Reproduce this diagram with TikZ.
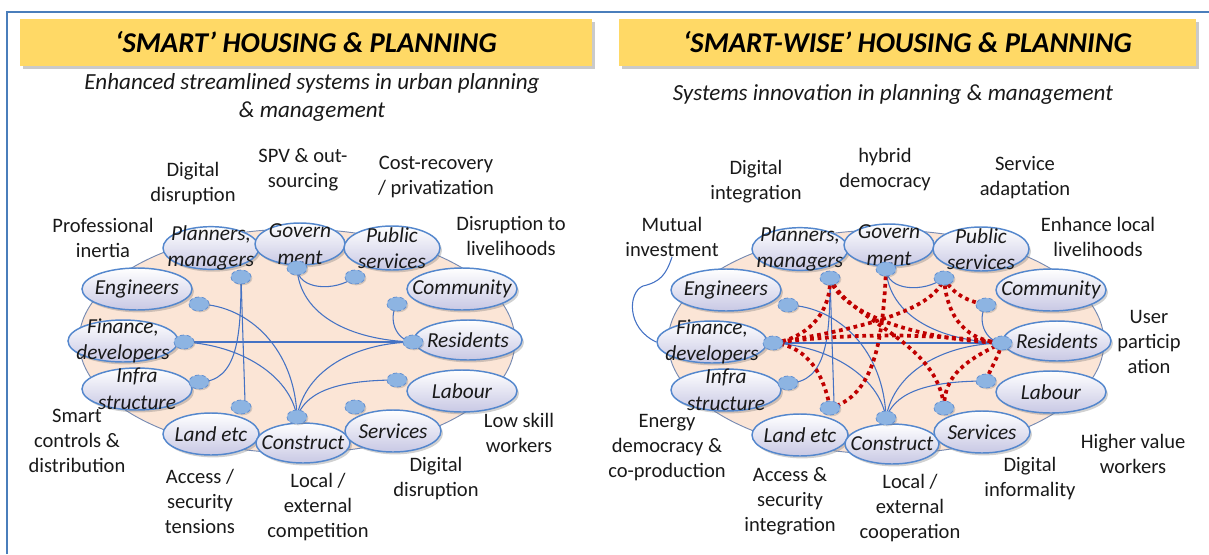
\documentclass[tikz,border=0pt]{standalone}
\usepackage{fontspec}
\setmainfont{Carlito}
\usetikzlibrary{shapes.geometric,shadows}
\pgfdeclarelayer{bg}
\pgfdeclarelayer{lines}
\pgfsetlayers{bg,lines,main}
\definecolor{hdr}{RGB}{255,217,102}
\definecolor{peach}{RGB}{251,229,214}
\definecolor{rim}{RGB}{118,138,178}
\definecolor{nodeedge}{RGB}{84,135,205}
\definecolor{nodelow}{RGB}{200,200,228}
\definecolor{dotfill}{RGB}{141,180,226}
\definecolor{dotedge}{RGB}{100,145,210}
\definecolor{link}{RGB}{68,114,196}
\definecolor{redlink}{RGB}{192,0,0}
\definecolor{framec}{RGB}{74,126,187}
\definecolor{ink}{RGB}{25,25,25}
\tikzset{
  hdrbox/.style={fill=hdr, draw=none, minimum height=35.25pt, inner sep=0pt,
     font=\fontsize{21.5}{24}\selectfont\bfseries\itshape, text=black,
     drop shadow={shadow xshift=2.5pt, shadow yshift=-2.5pt, opacity=0.35, fill=black!60}},
  subt/.style={font=\fontsize{17.3}{21}\selectfont\itshape, align=center, text=ink, inner sep=0pt},
  ann/.style={font=\fontsize{15.4}{18.75}\selectfont, align=center, text=ink, inner sep=0pt},
  bigell/.style={ellipse, fill=peach, draw=rim, line width=0.7pt, minimum width=327pt, minimum height=168pt, inner sep=0pt},
  nd/.style={ellipse, draw=nodeedge, line width=1.1pt, top color=white, bottom color=nodelow,
     minimum width=72pt, minimum height=31.5pt, inner sep=0pt,
     drop shadow={shadow xshift=1.5pt, shadow yshift=-1.8pt, opacity=0.3, fill=black!60}},
  ndw/.style={nd, minimum width=82.5pt},
  ndtext/.style={font=\fontsize{16}{20}\selectfont\itshape, align=center, text=ink, inner sep=0pt},
  port/.style={ellipse, fill=dotfill, draw=dotedge, densely dashed, line width=0.6pt,
     minimum width=15pt, minimum height=10.5pt, inner sep=0pt,
     drop shadow={shadow xshift=1pt, shadow yshift=-1pt, opacity=0.25, fill=black!60}},
  lnk/.style={draw=link, line width=0.8pt},
  rlnk/.style={draw=redlink, line width=2.8pt, dash pattern=on 2.8pt off 2.8pt},
}
\newcommand{\hpnet}[1]{%
  \begin{pgfonlayer}{bg}
    \node[bigell] (#1big) at (297,341) {};
  \end{pgfonlayer}
  \node[nd, minimum width=72pt, minimum height=32pt, label={[ndtext]center:{Planners,\\managers}}] (#1pl) at (211,248) {};
  \node[nd, minimum width=67.5pt, label={[ndtext]center:{Govern\\ment}}] (#1go) at (300,244) {};
  \node[nd, minimum width=72pt, minimum height=33pt, label={[ndtext]center:{Public\\services}}] (#1pu) at (392,248) {};
  \node[ndw, label={[ndtext]center:{Community}}] (#1co) at (462,289) {};
  \node[ndw, minimum width=81pt, minimum height=30pt, label={[ndtext]center:{Residents}}] (#1re) at (468,340) {};
  \node[ndw, label={[ndtext]center:{Labour}}] (#1la) at (462,391) {};
  \node[ndw, label={[ndtext]center:{Engineers}}] (#1en) at (137,289) {};
  \node[ndw, label={[ndtext]center:{Finance,\\developers}}] (#1fi) at (123,341) {};
  \node[ndw, label={[ndtext]center:{Infra\\structure}}] (#1in) at (137,389) {};
  \node[nd, label={[ndtext]center:{Land etc}}] (#1ld) at (211,434) {};
  \node[nd, minimum width=70.5pt, minimum height=30pt, label={[ndtext]center:{Construct}}] (#1cn) at (303,443) {};
  \node[nd, label={[ndtext]center:{Services}}] (#1se) at (393,431) {};
  \node[port] (#1dpl) at (241,277) {};
  \node[port] (#1dgo) at (297,268) {};
  \node[port] (#1dpu) at (355,277) {};
  \node[port] (#1den) at (199,304) {};
  \node[port] (#1dco) at (397,304) {};
  \node[port] (#1dfi) at (184,342) {};
  \node[port] (#1dre) at (413,342) {};
  \node[port] (#1din) at (199,382) {};
  \node[port] (#1dla) at (397,380) {};
  \node[port] (#1dld) at (241,407) {};
  \node[port] (#1dcn) at (297,417) {};
  \node[port] (#1dse) at (355,407) {};
  \begin{pgfonlayer}{lines}
    \draw[lnk] (#1dpl.center) .. controls (241,335) and (238,382) .. (#1din.center);
    \draw[lnk] (#1dpl.center) -- (#1dld.60);
    \draw[lnk] (#1dgo.center) .. controls (298,290) and (335,292) .. (#1dpu.center);
    \draw[lnk] (#1dgo.center) .. controls (300,315) and (350,340) .. (#1dre.center);
    \draw[lnk] (#1den.center) .. controls (250,306) and (295,350) .. (#1dcn.center);
    \draw[lnk] (#1dfi.center) -- (#1dre.center);
    \draw[lnk] (#1dfi.center) .. controls (240,345) and (290,375) .. (#1dcn.center);
    \draw[lnk] (#1dco.center) .. controls (388,318) and (395,340) .. (#1dre.center);
    \draw[lnk] (#1dcn.center) .. controls (305,370) and (355,343) .. (#1dre.center);
    \draw[lnk] (#1dcn.center) .. controls (305,395) and (330,380) .. (#1dla.center);
  \end{pgfonlayer}
}
\begin{document}
\begin{tikzpicture}[x=0.75pt, y=-0.75pt]
\useasboundingbox (0,0) rectangle (1209,554);
\draw[framec, line width=1.1pt] (7,554) -- (7,12) -- (1209,12);

% headers
\node[hdrbox, minimum width=429pt] (hl) at (306,42.5) {`SMART' HOUSING \& PLANNING};
\node[hdrbox, minimum width=432.75pt] (hr) at (907.5,42.5) {`SMART-WISE' HOUSING \& PLANNING};
\node[subt] (sl) at (312,97) {Enhanced streamlined systems in urban planning\\\& management};
\node[subt] (sr) at (893,94) {Systems innovation in planning \& management};

% left network
\hpnet{L}
% right network
\begin{scope}[shift={(589,1)}]
\hpnet{R}
\begin{pgfonlayer}{lines}
  \draw[rlnk] (Rdfi.center) .. controls (260,332) and (340,332) .. (Rdre.center);
  \draw[rlnk] (Rdfi.center) .. controls (270,328) and (345,310) .. (Rdpu.center);
  \draw[rlnk] (Rdpl.center) .. controls (250,310) and (320,338) .. (Rdre.center);
  \draw[rlnk] (Rdpl.center) .. controls (260,320) and (350,340) .. (Rdse.center);
  \draw[rlnk] (Rdgo.center) .. controls (294,340) and (285,395) .. (Rdld.center);
  \draw[rlnk] (Rdfi.center) .. controls (220,345) and (235,375) .. (Rdld.center);
  \draw[rlnk] (Rdpl.center) .. controls (242,315) and (215,338) .. (Rdfi.center);
  \draw[rlnk] (Rdpu.center) .. controls (358,320) and (380,340) .. (Rdre.center);
  \draw[rlnk] (Rdpu.center) .. controls (365,295) and (380,300) .. (Rdco.center);
  \draw[rlnk] (Rdre.center) .. controls (375,360) and (355,375) .. (Rdse.center);
  \draw[rlnk] (Rdre.center) .. controls (410,355) and (400,370) .. (Rdla.center);
\end{pgfonlayer}
\end{scope}

% left annotations
\node[ann] (a1) at (193,184) {Digital\\disruption};
\node[ann] (a2) at (303,170) {SPV \& out-\\sourcing};
\node[ann] (a3) at (436,177) {Cost-recovery\\/ privatization};
\node[ann] (a4) at (103,238) {Professional\\inertia};
\node[ann] (a5) at (511,236) {Disruption to\\livelihoods};
\node[ann] (a6) at (77,441) {Smart\\controls \&\\distribution};
\node[ann] (a7) at (200,501) {Access /\\security\\tensions};
\node[ann] (a8) at (318,507) {Local /\\external\\competition};
\node[ann] (a9) at (436,479) {Digital\\disruption};
\node[ann] (a10) at (519,433) {Low skill\\workers};

% right annotations
\node[ann] (b1) at (756,182) {Digital\\integration};
\node[ann] (b2) at (885,170) {hybrid\\democracy};
\node[ann] (b3) at (1025,178) {Service\\adaptation};
\node[ann] (b4) at (672,237) {Mutual\\investment};
\node[ann] (b5) at (1098,237) {Enhance local\\livelihoods};
\node[ann] (b6) at (1149,342) {User\\particip\\ation};
\node[ann] (b7) at (667,448) {Energy\\democracy \&\\co-production};
\node[ann] (b8) at (790,501) {Access \&\\security\\integration};
\node[ann] (b9) at (910,508) {Local /\\external\\cooperation};
\node[ann] (b10) at (1030,479) {Digital\\informality};
\node[ann] (b11) at (1133,454) {Higher value\\workers};

\draw[lnk] (b4.south) .. controls (666,275) and (660,282) .. (643,286)
   .. controls (628,292) and (626,328) .. (Rfi.west);
\end{tikzpicture}
\end{document}
